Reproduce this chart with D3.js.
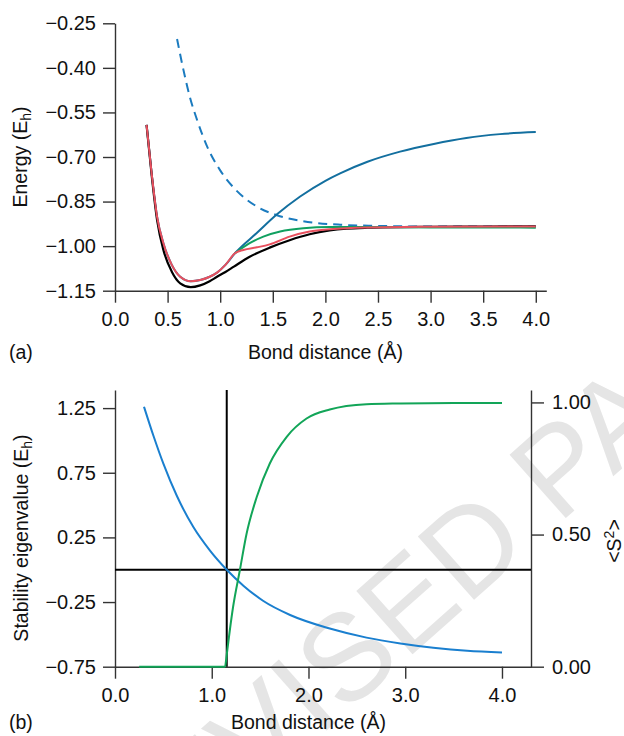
<!DOCTYPE html>
<html>
<head>
<meta charset="utf-8">
<script src="https://cdn.jsdelivr.net/npm/d3@7"></script>
<style>
  body { margin: 0; background: #fff; }
  svg { display: block; font-family: "Liberation Sans", Arial, sans-serif; }
  .axis path, .axis line { stroke: #333; stroke-width: 1.4; }
  .axis text { font-size: 20px; fill: #111; font-family: "Liberation Sans", Arial, sans-serif; }
  .lbl { font-size: 19.5px; fill: #111; }
</style>
</head>
<body>
<div id="chart"></div>
<script>
// ---- panel (a): energy curves ----
var fciX = [0.30, 0.35, 0.40, 0.46, 0.54, 0.62, 0.72, 0.81, 0.90, 0.97, 1.05, 1.13, 1.28, 1.47, 1.66, 1.85, 2.04, 2.20, 2.40, 3.00, 3.50, 4.00];
var fciE = [-0.592, -0.766, -0.912, -1.013, -1.086, -1.125, -1.138, -1.132, -1.118, -1.103, -1.087, -1.069, -1.036, -1.005, -0.980, -0.960, -0.947, -0.941, -0.938, -0.935, -0.934, -0.933];

var redX = [0.30, 0.35, 0.40, 0.46, 0.54, 0.62, 0.72, 0.81, 0.90, 0.97, 1.05, 1.14, 1.22, 1.35, 1.47, 1.66, 1.85, 2.04, 2.40, 3.00, 4.00];
var redE = [-0.592, -0.760, -0.901, -0.990, -1.063, -1.103, -1.118, -1.114, -1.103, -1.089, -1.063, -1.024, -1.013, -1.004, -0.994, -0.968, -0.951, -0.943, -0.937, -0.935, -0.934];

var rhfX = [0.30, 0.35, 0.40, 0.46, 0.54, 0.62, 0.72, 0.81, 0.90, 0.97, 1.05, 1.14, 1.35, 1.54, 1.76, 2.00, 2.14, 2.40, 2.71, 3.03, 3.34, 3.66, 4.00];
var rhfE = [-0.592, -0.760, -0.901, -0.990, -1.063, -1.103, -1.118, -1.114, -1.103, -1.089, -1.063, -1.024, -0.955, -0.893, -0.833, -0.780, -0.755, -0.716, -0.682, -0.656, -0.636, -0.623, -0.616];

var uhfX = [1.14, 1.28, 1.41, 1.57, 1.79, 2.04, 2.50, 3.00, 3.50, 4.00];
var uhfE = [-1.024, -0.990, -0.968, -0.951, -0.940, -0.936, -0.936, -0.937, -0.937, -0.938];

var dashX = [0.59, 0.65, 0.71, 0.78, 0.87, 1.00, 1.16, 1.35, 1.54, 1.79, 2.14, 2.50, 3.00, 3.50, 4.00];
var dashE = [-0.303, -0.406, -0.496, -0.575, -0.660, -0.745, -0.815, -0.867, -0.896, -0.916, -0.928, -0.932, -0.934, -0.934, -0.934];

var ticksAX = [0, 0.5, 1.0, 1.5, 2.0, 2.5, 3.0, 3.5, 4.0];
var ticksAY = [-1.15, -1.00, -0.85, -0.70, -0.55, -0.40, -0.25];

// ---- panel (b): stability eigenvalue and <S^2> ----
var eigX = [0.30, 0.40, 0.50, 0.64, 0.81, 0.98, 1.155, 1.33, 1.53, 1.81, 2.22, 2.60, 2.95, 3.29, 3.64, 4.00];
var eigY = [1.26, 1.03, 0.82, 0.57, 0.33, 0.150, 0.0, -0.125, -0.24, -0.35, -0.455, -0.525, -0.57, -0.603, -0.627, -0.64];

var s2FlatX = [0.25, 1.14];
var s2FlatY = [0, 0];
var s2X = [1.14, 1.22, 1.29, 1.36, 1.465, 1.60, 1.775, 1.98, 2.22, 2.60, 2.95, 3.50, 4.00];
var s2Y = [0, 0.225, 0.364, 0.503, 0.642, 0.769, 0.87, 0.939, 0.973, 0.993, 0.996, 0.998, 0.998];

var cfPoint = 1.155;   // vertical marker
var ticksBX = [0, 1, 2, 3, 4];
var ticksBY = [-0.75, -0.25, 0.25, 0.75, 1.25];
var ticksBS = [0, 0.5, 1.0];

var W = 624, H = 736;
var svg = d3.select("#chart").append("svg").attr("width", W).attr("height", H);

// watermark behind everything
svg.append("text")
  .attr("transform", "translate(129,906) rotate(-41.6)")
  .style("font-size", "123px")
  .style("fill", "#e5e5e5")
  .text("REVISED PAGES");

function zip(xs, ys) { return xs.map(function(x, i) { return [x, ys[i]]; }); }

// ---------- panel (a) ----------
var xa = d3.scaleLinear().domain([0, 4.1]).range([115, 546.3]);
var ya = d3.scaleLinear().domain([-1.15, -0.25]).range([290.7, 23.3]);

svg.append("g").attr("class", "axis").attr("transform", "translate(0," + ya(-1.15) + ")")
  .call(d3.axisBottom(xa).tickValues(ticksAX).tickFormat(d3.format(".1f")).tickSize(12).tickSizeOuter(0).tickPadding(9));
svg.append("g").attr("class", "axis").attr("transform", "translate(" + xa(0) + ",0)")
  .call(d3.axisLeft(ya).tickValues(ticksAY).tickFormat(d3.format(".2f")).tickSize(12).tickSizeOuter(0).tickPadding(7));

var lineA = d3.line().x(function(d) { return xa(d[0]); }).y(function(d) { return ya(d[1]); }).curve(d3.curveMonotoneX);

svg.append("path").attr("d", lineA(zip(dashX, dashE))).attr("fill", "none")
  .attr("stroke", "#1b7bbf").attr("stroke-width", 2).attr("stroke-dasharray", "9,6");
svg.append("path").attr("d", lineA(zip(rhfX, rhfE))).attr("fill", "none")
  .attr("stroke", "#136f9f").attr("stroke-width", 2);
svg.append("path").attr("d", lineA(zip(fciX, fciE))).attr("fill", "none")
  .attr("stroke", "#000").attr("stroke-width", 2.2);
svg.append("path").attr("d", lineA(zip(uhfX, uhfE))).attr("fill", "none")
  .attr("stroke", "#10a060").attr("stroke-width", 2);
svg.append("path").attr("d", lineA(zip(redX, redE))).attr("fill", "none")
  .attr("stroke", "#e8505e").attr("stroke-width", 2);

svg.append("text").attr("class", "lbl").attr("x", xa(2)).attr("y", 359)
  .attr("text-anchor", "middle").text("Bond distance (Å)");
svg.append("text").attr("class", "lbl").attr("x", 9).attr("y", 359).text("(a)");
var yla = svg.append("text").attr("class", "lbl").attr("text-anchor", "middle")
  .attr("transform", "translate(27,157) rotate(-90)");
yla.append("tspan").text("Energy (E");
yla.append("tspan").attr("dy", 4).style("font-size", "14px").text("h");
yla.append("tspan").attr("dy", -4).text(")");

// ---------- panel (b) ----------
var xb = d3.scaleLinear().domain([0, 4.3]).range([115, 531]);
var yb = d3.scaleLinear().domain([-0.75, 1.39]).range([666.7, 390]);
var ys = d3.scaleLinear().domain([0, 1.047]).range([666.7, 390]);

svg.append("g").attr("class", "axis").attr("transform", "translate(0," + yb(-0.75) + ")")
  .call(d3.axisBottom(xb).tickValues(ticksBX).tickFormat(d3.format(".1f")).tickSize(12).tickSizeOuter(0).tickPadding(9));
svg.append("g").attr("class", "axis").attr("transform", "translate(" + xb(0) + ",0)")
  .call(d3.axisLeft(yb).tickValues(ticksBY).tickFormat(d3.format(".2f")).tickSize(12).tickSizeOuter(0).tickPadding(7));
svg.append("g").attr("class", "axis").attr("transform", "translate(" + xb(4.3) + ",0)")
  .call(d3.axisRight(ys).tickValues(ticksBS).tickFormat(d3.format(".2f")).tickSize(13).tickSizeOuter(0).tickPadding(8));

// zero line and Coulson-Fischer marker
svg.append("line").attr("x1", xb(0)).attr("x2", xb(4.3)).attr("y1", yb(0)).attr("y2", yb(0))
  .attr("stroke", "#000").attr("stroke-width", 2);
svg.append("line").attr("x1", xb(cfPoint)).attr("x2", xb(cfPoint)).attr("y1", yb(1.39)).attr("y2", yb(-0.75))
  .attr("stroke", "#000").attr("stroke-width", 2);

var lineB = d3.line().x(function(d) { return xb(d[0]); }).y(function(d) { return yb(d[1]); }).curve(d3.curveMonotoneX);
var lineS = d3.line().x(function(d) { return xb(d[0]); }).y(function(d) { return ys(d[1]); }).curve(d3.curveMonotoneX);

svg.append("path").attr("d", lineB(zip(eigX, eigY))).attr("fill", "none")
  .attr("stroke", "#1a7fcf").attr("stroke-width", 2);
svg.append("path").attr("d", lineS(zip(s2FlatX, s2FlatY))).attr("fill", "none")
  .attr("stroke", "#12a558").attr("stroke-width", 2);
svg.append("path").attr("d", lineS(zip(s2X, s2Y))).attr("fill", "none")
  .attr("stroke", "#12a558").attr("stroke-width", 2);

svg.append("text").attr("class", "lbl").attr("x", xb(2)).attr("y", 729)
  .attr("text-anchor", "middle").text("Bond distance (Å)");
svg.append("text").attr("class", "lbl").attr("x", 9).attr("y", 729).text("(b)");
var ylb = svg.append("text").attr("class", "lbl").attr("text-anchor", "middle")
  .attr("transform", "translate(28,538) rotate(-90)");
ylb.append("tspan").text("Stability eigenvalue (E");
ylb.append("tspan").attr("dy", 4).style("font-size", "14px").text("h");
ylb.append("tspan").attr("dy", -4).text(")");
var yls = svg.append("text").attr("class", "lbl").attr("text-anchor", "middle")
  .attr("transform", "translate(621,541) rotate(-90)");
yls.append("tspan").text("<S");
yls.append("tspan").attr("dy", -7).style("font-size", "14px").text("2");
yls.append("tspan").attr("dy", 7).text(">");
</script>
</body>
</html>
